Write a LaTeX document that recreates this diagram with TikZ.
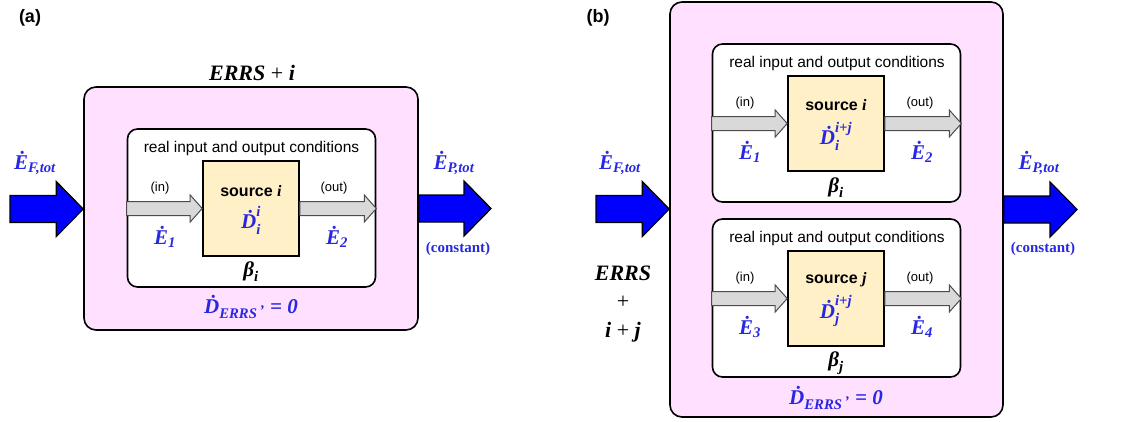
\documentclass[tikz,border=0pt]{standalone}
\usepackage{amsmath}
\usepackage{fontspec}
\setmainfont{Liberation Serif}
\setsansfont{Liberation Sans}
\usetikzlibrary{calc}

\definecolor{qblue}{RGB}{40,40,225}
\definecolor{arrowblue}{RGB}{0,0,255}
\definecolor{pinkfill}{RGB}{255,224,255}
\definecolor{srcfill}{RGB}{255,240,200}
\definecolor{grayfill}{RGB}{217,217,217}

\newcommand{\bi}[1]{\text{\bfseries\itshape #1}}
% block arrow: style, from, to, shaft half width, head half width, head length
\newcommand{\fatarrow}[6]{%
  \draw[#1] let \p1=(#2), \p2=(#3) in
    (\x1,\y1+#4) -- (\x2-#6,\y1+#4) -- (\x2-#6,\y1+#5) -- (\x2,\y1)
    -- (\x2-#6,\y1-#5) -- (\x2-#6,\y1-#4) -- (\x1,\y1-#4) -- cycle;}

\begin{document}
\begin{tikzpicture}[x=1pt,y=-1pt,
    outerbox/.style={draw,line width=1.6pt,rounded corners=12pt,fill=pinkfill,inner sep=0pt},
    innerbox/.style={draw,line width=1.6pt,rounded corners=10pt,fill=white,inner sep=0pt,
      minimum width=248pt,minimum height=158pt},
    srcbox/.style={draw,line width=1.6pt,fill=srcfill,inner sep=0pt,
      minimum width=96pt,minimum height=95pt},
    bluearrow/.style={draw=black,line width=1.3pt,fill=arrowblue,line join=miter},
    grayarrow/.style={draw=black!70,line width=1pt,fill=grayfill,line join=miter},
    panel/.style={font=\sffamily\bfseries\fontsize{18}{20}\selectfont},
    plain/.style={font=\sffamily\fontsize{15.5}{18}\selectfont},
    io/.style={font=\sffamily\fontsize{13}{15}\selectfont},
    srcname/.style={font=\sffamily\bfseries\fontsize{16}{18}\selectfont},
    qty/.style={text=qblue,font=\fontsize{21}{23}\selectfont},
    sys/.style={font=\fontsize{22}{28.5}\selectfont\bfseries\itshape,align=center},
    const/.style={text=qblue,font=\bfseries\fontsize{15}{17}\selectfont}]
\useasboundingbox (0,0) rectangle (1121,421);

% ---------------- (a) ----------------
\node[panel] (labA) at (30,18) {(a)};
\node[sys] (titleA) at (252,73) {ERRS \textup{\mdseries+} i};
\node[outerbox,minimum width=334pt,minimum height=243pt] (outerA) at (251,208.5) {};
\node[innerbox] (innerA) at (251.5,208) {};
\node[srcbox] (srcA) at (251,208.5) {};

\coordinate (fuelA) at (10,209);
\coordinate (prodA) at (491,209);
\fatarrow{bluearrow}{fuelA}{outerA.west}{13.5pt}{27.5pt}{27pt}
\fatarrow{bluearrow}{outerA.east}{prodA}{13.5pt}{27.5pt}{27pt}
\fatarrow{grayarrow}{innerA.west |- srcA}{srcA.west}{7pt}{13.5pt}{12pt}
\fatarrow{grayarrow}{srcA.east}{innerA.east |- srcA}{7pt}{13.5pt}{12pt}

\node[qty] (efA) at (35,163) {$\bi{\.E}_{\bi{F,tot}}$};
\node[qty] (epA) at (454,163) {$\bi{\.E}_{\bi{P,tot}}$};
\node[const] (constA) at (458,249) {(constant)};
\node[plain] (condA) at (251.5,148) {real input and output conditions};
\node[srcname] (nameA) at (251,191) {source \textrm{\itshape i}};
\node[qty] (dA) at (251,220) {$\bi{\.D}_{\bi{i}}^{\bi{i}}$};
\node[io] (inA) at (160,188) {(in)};
\node[io] (outA) at (334,188) {(out)};
\node[qty] (e1A) at (165,237) {$\bi{\.E}_{\bi{1}}$};
\node[qty] (e2A) at (337,237) {$\bi{\.E}_{\bi{2}}$};
\node[qty,text=black] (betaA) at (251,272) {$\bi{β}_{\bi{i}}$};
\node[qty] (dsysA) at (251,307) {$\bi{\.D}_{\bi{ERRS\,\raisebox{0.45ex}{'}}}$ \textbf{\textit{= 0}}};

% ---------------- (b) ----------------
\node[panel] (labB) at (598,18) {(b)};
\node[outerbox,minimum width=333pt,minimum height=415pt] (outerB) at (836.5,209.5) {};
\node[innerbox] (innerB1) at (836.5,123) {};
\node[innerbox] (innerB2) at (836.5,298) {};
\node[srcbox] (srcB1) at (836,123.5) {};
\node[srcbox] (srcB2) at (836,298.5) {};

\coordinate (fuelB) at (596,209);
\coordinate (prodB) at (1077,209);
\fatarrow{bluearrow}{fuelB}{outerB.west}{13.5pt}{27.5pt}{27pt}
\fatarrow{bluearrow}{outerB.east}{prodB}{13.5pt}{27.5pt}{27pt}
\fatarrow{grayarrow}{innerB1.west |- srcB1}{srcB1.west}{7pt}{13.5pt}{12pt}
\fatarrow{grayarrow}{srcB1.east}{innerB1.east |- srcB1}{7pt}{13.5pt}{12pt}
\fatarrow{grayarrow}{innerB2.west |- srcB2}{srcB2.west}{7pt}{13.5pt}{12pt}
\fatarrow{grayarrow}{srcB2.east}{innerB2.east |- srcB2}{7pt}{13.5pt}{12pt}

\node[qty] (efB) at (620,163) {$\bi{\.E}_{\bi{F,tot}}$};
\node[qty] (epB) at (1039,163) {$\bi{\.E}_{\bi{P,tot}}$};
\node[const] (constB) at (1043,249) {(constant)};
\node[sys] (titleB) at (623,304) {ERRS\\\textup{\mdseries+}\\i \textup{\mdseries+} j};

% upper subsystem
\node[plain] (condB1) at (837,63) {real input and output conditions};
\node[srcname] (nameB1) at (836,105) {source \textrm{\itshape i}};
\node[qty] (dB1) at (836,136) {$\bi{\.D}_{\bi{i}}^{\bi{i+j}}$};
\node[io] (inB1) at (745,103) {(in)};
\node[io] (outB1) at (920,103) {(out)};
\node[qty] (e1B) at (750,152) {$\bi{\.E}_{\bi{1}}$};
\node[qty] (e2B) at (922,152) {$\bi{\.E}_{\bi{2}}$};
\node[qty,text=black] (betaB1) at (836,188) {$\bi{β}_{\bi{i}}$};

% lower subsystem
\node[plain] (condB2) at (837,238) {real input and output conditions};
\node[srcname] (nameB2) at (836,280) {source \textrm{\itshape j}};
\node[qty] (dB2) at (836,311) {$\bi{\.D}_{\bi{j}}^{\bi{i+j}}$};
\node[io] (inB2) at (745,278) {(in)};
\node[io] (outB2) at (920,278) {(out)};
\node[qty] (e3B) at (750,327) {$\bi{\.E}_{\bi{3}}$};
\node[qty] (e4B) at (922,327) {$\bi{\.E}_{\bi{4}}$};
\node[qty,text=black] (betaB2) at (836,363) {$\bi{β}_{\bi{j}}$};

\node[qty] (dsysB) at (836,398) {$\bi{\.D}_{\bi{ERRS\,\raisebox{0.45ex}{'}}}$ \textbf{\textit{= 0}}};
\end{tikzpicture}
\end{document}
